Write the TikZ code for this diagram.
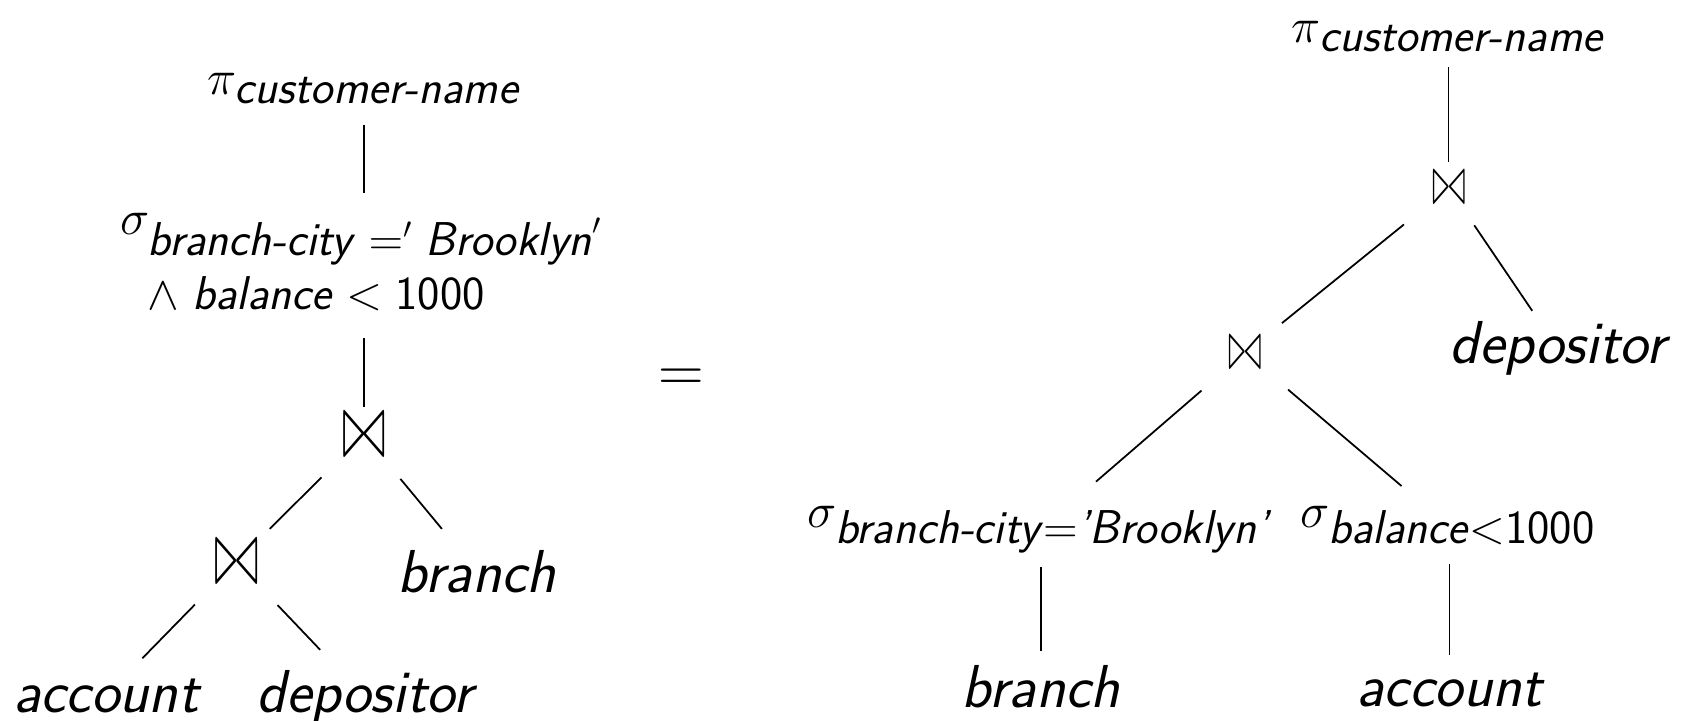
\RequirePackage{fix-cm}
\documentclass[tikz,border=0pt]{standalone}
\usepackage{amsmath}
\usepackage{graphicx}
\usepackage{tikz}
\DeclareMathSizes{28}{28}{27}{17}
\newcommand{\attr}[1]{\textsf{\textsl{#1}}}
\newcommand{\jn}[1]{\resizebox{#1}{#1}{$\mathrel\triangleright\mkern-1mu\mathrel\triangleleft$}}

\begin{document}
\begin{tikzpicture}[line width=1pt,
    leaf/.style = {anchor=base, inner sep=0pt, font=\fontsize{34.5}{40}\selectfont\sffamily\slshape},
    op/.style = {inner sep=0pt, font=\fontsize{28}{33}\selectfont}]
    \useasboundingbox (0,0) rectangle (33.64,14.4);
    % Nodes

    \node[op] (1) at (7.28, 12.63) {$\pi_{\attr{customer-name}}$};
    \node[op] (2) at (7.22, 9.16) {$\sigma_{\begin{subarray}{l}\attr{branch-city}\;='\;\attr{Brooklyn}'\\ \wedge\;\attr{balance}\;<\;\textsf{1000}\rule{0pt}{22pt}\end{subarray}}$};
    \node[op] (3) at (7.28, 5.70) {\jn{0.88cm}};
    \node[op] (4) at (4.73, 3.16) {\jn{0.88cm}};
    \node[leaf] (5) at (9.54, 2.56) {branch};
    \node[leaf] (6) at (2.12, 0.16) {account};
    \node[leaf] (7) at (7.30, 0.16) {depositor};

    \node[inner sep=0pt, font=\fontsize{36}{40}\selectfont] (8) at (13.62, 6.79) {$=$};

    \node[op] (9) at (28.97, 13.67) {$\pi_{\attr{customer-name}}$};
    \node[op] (10) at (28.98, 10.64) {\jn{0.66cm}};
    \node[op] (11) at (24.90, 7.34) {\jn{0.66cm}};
    \node[leaf] (12) at (31.16, 7.12) {depositor};
    \node[op] (13) at (20.80, 3.80) {$\sigma_{\attr{branch-city}=\attr{'Brooklyn'}}$};
    \node[op] (14) at (28.96, 3.89) {$\sigma_{\attr{balance}<\textsf{1000}}$};
    \node[leaf] (15) at (20.82, 0.26) {branch};
    \node[leaf] (16) at (28.99, 0.28) {account};

    % Edges
    \draw[shorten <=0.73cm, shorten >=1.37cm] (1.center) -- (1.center |- 2.center);
    \draw[shorten <=1.53cm, shorten >=0.56cm] (3.center |- 2.center) -- (3.center);
    \draw[shorten <=1.20cm, shorten >=0.94cm] (3.center) -- (4.center);
    \draw[shorten <=1.14cm, shorten >=1.10cm] (3.center) -- (5.center);
    \draw[shorten <=1.19cm, shorten >=1.04cm] (4.center) -- (6.center);
    \draw[shorten <=1.19cm, shorten >=1.30cm] (4.center) -- (7.center);

    \draw[shorten <=0.61cm, shorten >=0.52cm] (9.center) -- (9.center |- 10.center);
    \draw[shorten <=1.16cm, shorten >=0.95cm] (10.center) -- (11.center);
    \draw[shorten <=0.90cm, shorten >=0.92cm] (10.center) -- (12.center);
    \draw[shorten <=1.15cm, shorten >=1.48cm] (11.center) -- (13.center);
    \draw[shorten <=1.13cm, shorten >=1.22cm] (11.center) -- (14.center);
    \draw[shorten <=0.74cm, shorten >=0.71cm] (15.center |- 13.center) -- (15.center);
    \draw[shorten <=0.77cm, shorten >=0.68cm] (16.center |- 14.center) -- (16.center);

\end{tikzpicture}
\end{document}
